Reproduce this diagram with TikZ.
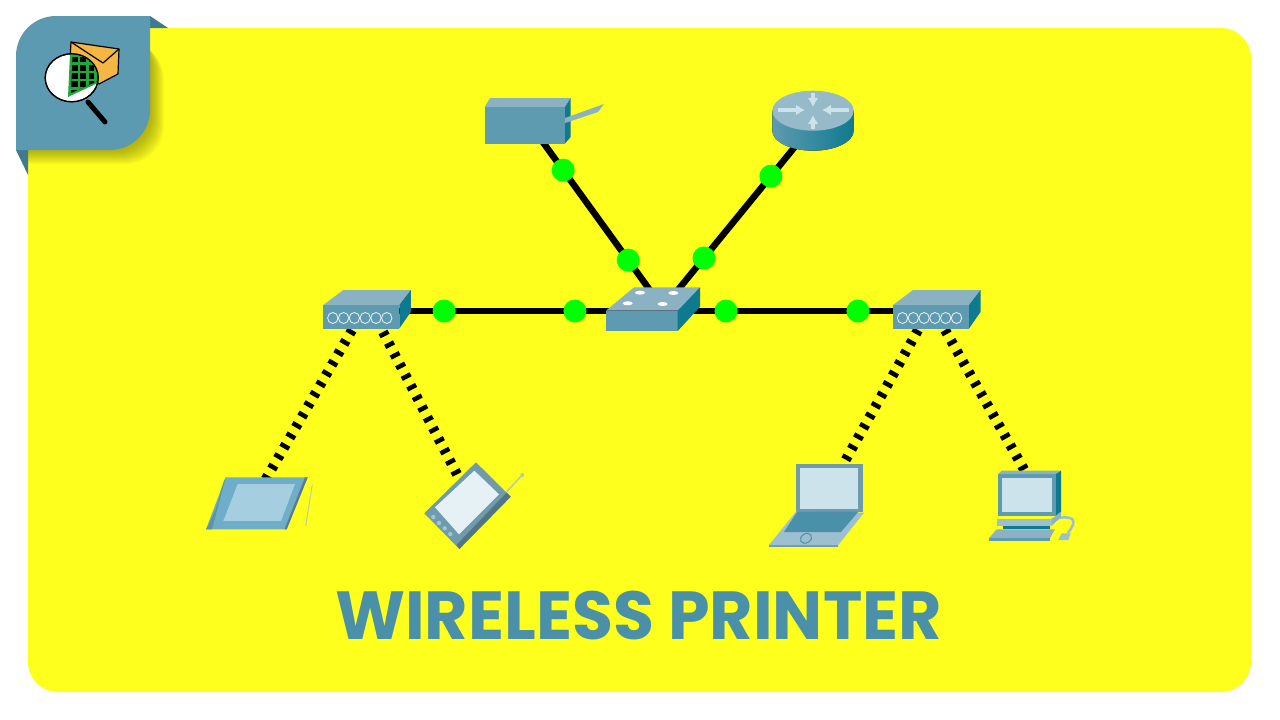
\documentclass[tikz,border=0pt]{standalone}
\usepackage{fontspec}
\usepackage{xcolor}
\usepackage{tikz}
\usetikzlibrary{arrows.meta,positioning}
\newfontfamily\titlefont{Poppins}
\definecolor{cFundo}{HTML}{FFFF1E}
\definecolor{cBadge}{HTML}{5C9AB2}
\definecolor{cDobra}{HTML}{3F7A92}
\definecolor{cFrente}{HTML}{5F9BB0}
\definecolor{cTopo}{HTML}{8AB2C2}
\definecolor{cLado}{HTML}{0E7A90}
\definecolor{cClaro}{HTML}{CDE3EC}
\definecolor{cTablet}{HTML}{6EAEC8}
\definecolor{cTela}{HTML}{A5CFE0}
\definecolor{cBorda}{HTML}{6F9BAD}
\definecolor{cBase}{HTML}{9CC0D0}
\definecolor{cTitulo}{HTML}{4A90A8}
\definecolor{cVerde}{HTML}{00FF00}
\definecolor{cLente}{HTML}{22A83A}
\definecolor{cCarta}{HTML}{F5B642}
\tikzset{
  hubicon/.pic={
    \fill[cTopo] (0,0) -- (20,-15) -- (87.5,-15) -- (76,0) -- cycle;
    \fill[cFrente] (0,0) rectangle (76,23.5);
    \fill[cLado] (76,0) -- (87.5,-15) -- (87.5,7) -- (76,23.5) -- cycle;
    \foreach \i in {0,...,5}
      \draw[white!85!cTopo,line width=0.8pt] (9.5+10.8*\i,13) ellipse[x radius=5.2,y radius=5.5];
  }
}
\begin{document}
\begin{tikzpicture}[
  x=1pt,y=-1pt,
  devbox/.style={inner sep=0pt,minimum size=0pt},
  lan/.style={draw=black,line width=6.5pt},
  wifi/.style={draw=black,line width=10pt,dash pattern=on 4.5pt off 7.5pt},
  netdot/.style={circle,fill=cVerde,inner sep=0pt,minimum size=23pt},
  seta/.style={cClaro,line width=3.4pt,-{Latex[length=9pt,width=11pt]}},
  titletext/.style={font=\titlefont\bfseries\fontsize{68}{68}\selectfont,text=cTitulo,inner sep=0pt,anchor=base,xscale=.98,transform shape}
]
\useasboundingbox (0,0) rectangle (1280,720);
\fill[white] (0,0) rectangle (1280,720);
\fill[cFundo,rounded corners=30pt] (28,28) rectangle (1251,692);

% ---- selo
\fill[cDobra] (150,16) -- (168,28) -- (150,28) -- cycle;
\fill[cDobra] (16,150) -- (28,175) -- (28,150) -- cycle;
\foreach \d in {1,...,14}
  \fill[black!60!cFundo,opacity=0.045] (28,28+\d) [rounded corners=38pt] -- (150+\d,28+\d) -- (150+\d,150+\d)
    [sharp corners] -- (28,150+\d) -- cycle;
\fill[cBadge] (16,150) [rounded corners=40pt] -- (16,16) [sharp corners] -- (150,16)
  [rounded corners=40pt] -- (150,150) [sharp corners] -- cycle;
\draw[fill=cCarta,line width=1.2pt,line join=round] (71,42) -- (119,49) -- (118,74) -- (99,84) -- (70,60) -- cycle;
\draw[line width=1.2pt,line join=round] (71,42) -- (103,63) -- (119,49);
\draw[fill=white,line width=1.2pt] (71.7,77.8) ellipse[x radius=26.5,y radius=24];
\begin{scope}
  \clip (71.7,77.8) ellipse[x radius=26,y radius=23.5];
  \fill[cLente] (70,54) -- (100,54) -- (100,82) -- (68,97) -- cycle;
  \begin{scope}
    \clip (72.5,57) -- (100,57) -- (100,80) -- (71,93) -- cycle;
    \fill[black] (70,54) rectangle (100,100);
    \foreach \i in {0,1,2}
      \draw[cLente,line width=2.6pt] (79+8.2*\i,50) -- (79+8.2*\i,100);
    \foreach \i in {0,1,2,3}
      \draw[cLente,line width=2.6pt] (66,63.5+8.3*\i) -- (100,63.5+8.3*\i);
  \end{scope}
\end{scope}
\draw[line width=1.2pt] (71.7,77.8) ellipse[x radius=26.5,y radius=24];
\draw[line width=5pt,line cap=round] (88,102) -- (105,122);

% ---- equipamentos
\node[devbox] (printer) at (527.6,121) {};
\node[devbox] (router) at (808.6,130) {};
\node[devbox] (switch) at (662,311) {};
\node[devbox] (hubL) at (365,311) {};
\node[devbox] (hubR) at (935,311) {};
\node[devbox] (tablet) at (252,503) {};
\node[devbox] (pda) at (473,505) {};
\node[devbox] (laptop) at (830,488) {};
\node[devbox] (desktop) at (1030,480) {};
\coordinate (swA) at (665,311);
\coordinate (swB) at (660.7,311);
\coordinate (hubLa) at (352,330);
\coordinate (hubLb) at (383,332);
\coordinate (hubRa) at (918,330);
\coordinate (hubRb) at (945,330);

% ---- cabos
\draw[wifi] (hubLa) -- (tablet);
\draw[wifi] (hubLb) -- (pda);
\draw[wifi] (hubRa) -- (laptop);
\draw[wifi] (hubRb) -- (desktop);
\path[lan] (printer) -- node[netdot,pos=.258] (d1) {} node[netdot,pos=.732] (d2) {} (swA);
\path[lan] (router) -- node[netdot,pos=.254] (d3) {} node[netdot,pos=.707] (d4) {} (swB);
\path[lan] (hubL) -- node[netdot,pos=.266] (d5) {} node[netdot,pos=.707] (d6) {} (switch);
\path[lan] (switch) -- node[netdot,pos=.234] (d7) {} node[netdot,pos=.718] (d8) {} (hubR);

% ---- impressora
\fill[cTopo] (484.7,107) -- (490,98) -- (570.7,98) -- (565,107) -- cycle;
\fill[cLado] (565,107) -- (570.7,98) -- (570.7,137) -- (565,143.5) -- cycle;
\fill[cFrente] (484.7,107) rectangle (565,143.5);
\fill[cTopo] (565,118) -- (604,104) -- (598,112) -- (565,123) -- cycle;

% ---- roteador
\fill[left color=cFrente,right color=cLado] (772.3,110.7) -- (772.3,130.7) arc[start angle=180,end angle=360,x radius=40.7,y radius=-20]
  -- (853.7,110.7) -- cycle;
\fill[cTopo!90!white] (813,110.7) ellipse[x radius=40.7,y radius=20];
\draw[seta] (778,110) -- (805,110);
\draw[seta] (849,110) -- (822,110);
\draw[seta] (813,93) -- (813,107);
\draw[seta] (813,129) -- (813,115);

% ---- comutador
\fill[cTopo] (606,310.7) -- (634,287.3) -- (700,287.3) -- (677.7,310.7) -- cycle;
\fill[cFrente] (606,310.7) rectangle (677.7,331);
\fill[cLado] (677.7,310.7) -- (700,287.3) -- (700,306.7) -- (677.7,331) -- cycle;
\foreach \px/\py in {640/292.7,673.3/293,627.7/303.3,662.7/304}
  \fill[white] (\px,\py) ellipse[x radius=5,y radius=2];

% ---- hubs
\pic at (323.3,305) {hubicon};
\pic at (893,305) {hubicon};

% ---- tablet
\fill[cTablet] (225.7,477.3) -- (307.7,477.3) -- (286.7,529.3) -- (206,529.3) -- cycle;
\fill[cBorda!80!black] (307.7,477.3) -- (286.7,529.3) -- (284.5,529.3) -- (305,477.3) -- cycle;
\fill[cTablet!85!black] (225.7,477.3) .. controls (219,490) and (222,500) .. (206,529.3) -- (212,529.3) -- cycle;
\fill[cTela] (237.7,484) -- (295,484) -- (281,521) -- (223.3,521) -- cycle;
\draw[cBase!70!yellow,line width=1pt] (312.3,484.3) -- (305.7,526);

% ---- pda
\draw[cBase!80!yellow,line width=1.5pt] (506.7,491.7) -- (522.3,475);
\fill[cBase!80!yellow] (522.3,475) circle[radius=2];
\fill[cBorda] (476,462.3) -- (510.7,496.7) -- (459.3,549) -- (424.3,513.3) -- cycle;
\fill[cBorda!75!black] (510.7,496.7) -- (459.3,549) -- (456.5,545) -- (506.7,492.5) -- cycle;
\fill[cClaro!50!white] (474.3,470.7) -- (499,494.3) -- (459,534.3) -- (435,507.3) -- cycle;
\foreach \px/\py in {433.3/517,439/523,444.7/528.3,450.3/534}
  \fill[cTablet!70!white] (\px,\py) circle[radius=2.2];

% ---- notebook
\fill[cBorda] (796,464) rectangle (862.7,511.7);
\fill[cClaro] (800,468.3) rectangle (858.3,509);
\fill[cBorda] (769,545) -- (838.3,545) -- (838.3,547) -- (769,547) -- cycle;
\fill[cBase] (796,511.7) -- (864,512.7) -- (838.3,545) -- (769,545) -- cycle;
\fill[cTitulo] (797.3,511.7) -- (858.3,511.7) -- (841,532) -- (784,532) -- cycle;
\draw[cTitulo,line width=1pt,rotate around={30:(806,538.3)}] (806,538.3) ellipse[x radius=6,y radius=4.5];

% ---- computador
\draw[cBase,line width=2.5pt] (1051.7,519.3) .. controls (1075,514) and (1078,520) .. (1068,533);
\fill[cBase] (1061.7,533.3) -- (1070.7,533.3) -- (1068.3,540) -- (1058.3,540) -- cycle;
\fill[cTopo] (1001.7,470.7) -- (1061,470.7) -- (1056,474) -- (998.3,474) -- cycle;
\fill[cLado] (1056,474) -- (1061,470.7) -- (1061,511.7) -- (1056,515.7) -- cycle;
\fill[cFrente] (998.3,474) rectangle (1056,515.7);
\fill[cClaro] (1001.7,478.3) rectangle (1052.3,512.3);
\fill[cLado] (1003.3,525.7) rectangle (1050,529.3);
\fill[cBase] (997.3,519.3) rectangle (1051.7,525.7);
\fill[cTopo] (1051.7,519.3) -- (1061,511.7) -- (1061,517) -- (1051.7,525.7) -- cycle;
\fill[cTopo] (996.7,529.3) -- (1055,529.3) -- (1050,538.3) -- (989,538.3) -- cycle;
\fill[cFrente] (989,538.3) rectangle (1050,540.7);

% ---- titulo
\node[titletext] (title) at (638.5,639) {WIRELESS PRINTER};
\end{tikzpicture}
\end{document}
